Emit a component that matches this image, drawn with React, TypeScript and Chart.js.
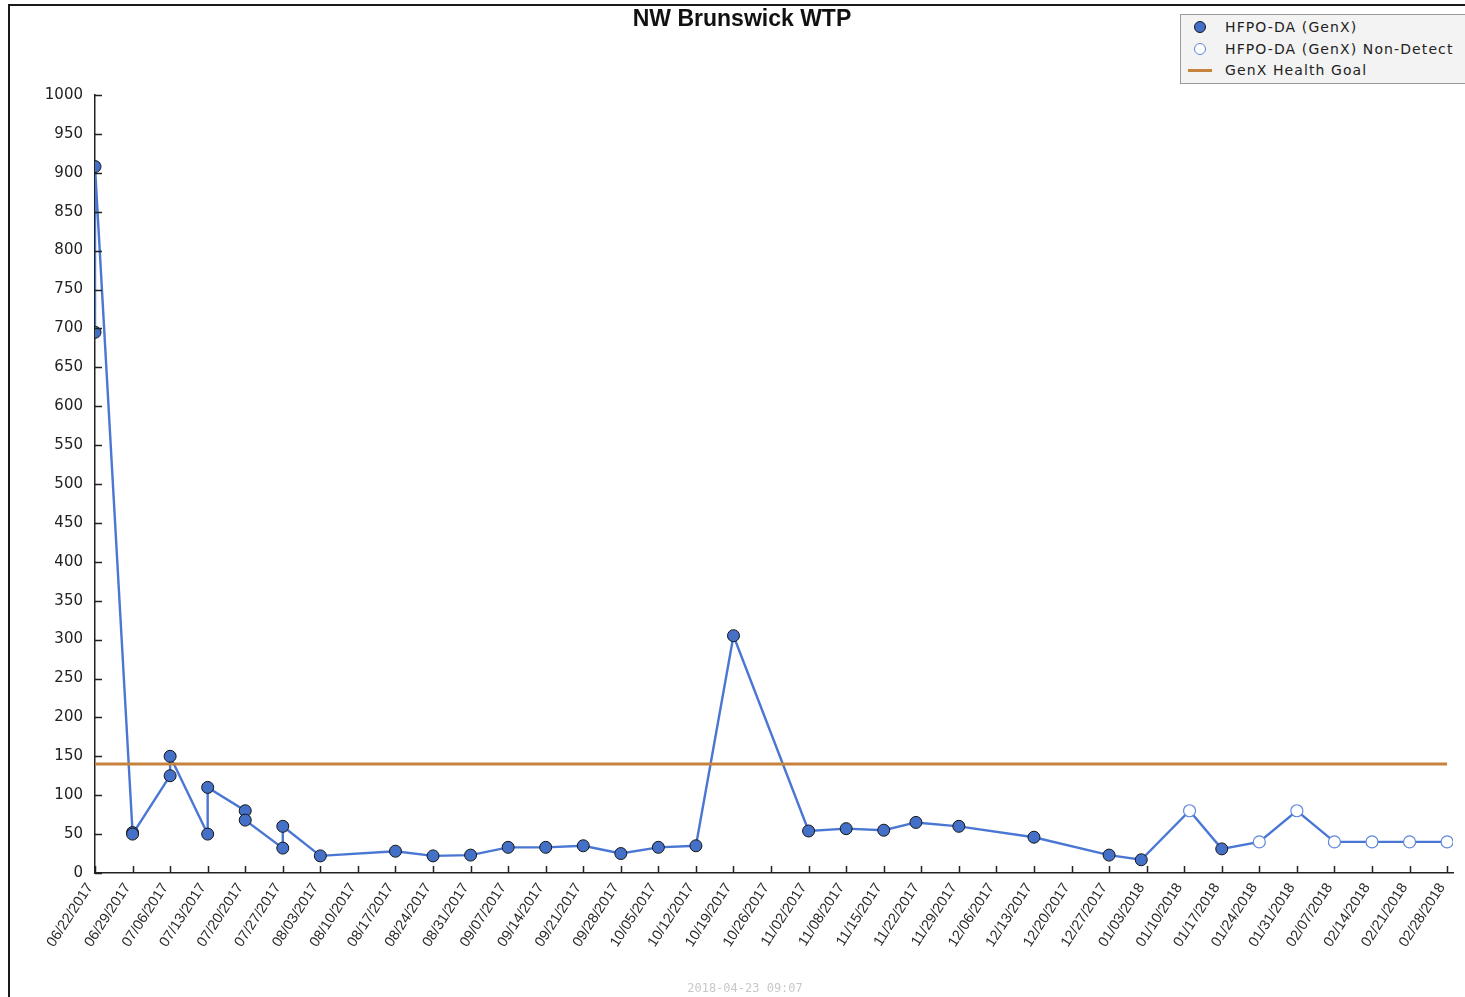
import React, { useEffect, useRef } from "react";
import { Chart, registerables } from "chart.js";

Chart.register(...registerables);

const chartTitle = "NW Brunswick WTP";
const startDate = "2017-06-22";
const tickLabels = [
  "06/22/2017", "06/29/2017", "07/06/2017", "07/13/2017", "07/20/2017", "07/27/2017",
  "08/03/2017", "08/10/2017", "08/17/2017", "08/24/2017", "08/31/2017", "09/07/2017",
  "09/14/2017", "09/21/2017", "09/28/2017", "10/05/2017", "10/12/2017", "10/19/2017",
  "10/26/2017", "11/02/2017", "11/08/2017", "11/15/2017", "11/22/2017", "11/29/2017",
  "12/06/2017", "12/13/2017", "12/20/2017", "12/27/2017", "01/03/2018", "01/10/2018",
  "01/17/2018", "01/24/2018", "01/31/2018", "02/07/2018", "02/14/2018", "02/21/2018",
  "02/28/2018",
];
const sampleDates = [
  "2017-06-22", "2017-06-22", "2017-06-29", "2017-06-29", "2017-07-06", "2017-07-06",
  "2017-07-13", "2017-07-13", "2017-07-20", "2017-07-20", "2017-07-27", "2017-07-27",
  "2017-08-03", "2017-08-17", "2017-08-24", "2017-08-31", "2017-09-07", "2017-09-14",
  "2017-09-21", "2017-09-28", "2017-10-05", "2017-10-12", "2017-10-19", "2017-11-02",
  "2017-11-09", "2017-11-16", "2017-11-22", "2017-11-30", "2017-12-14", "2017-12-28",
  "2018-01-03", "2018-01-12", "2018-01-18", "2018-01-25", "2018-02-01", "2018-02-08",
  "2018-02-15", "2018-02-22", "2018-03-01",
];
const sampleValues = [
  695, 908, 52, 50, 125, 150,
  50, 110, 80, 68, 32, 60,
  22, 28, 22, 23, 33, 33,
  35, 25, 33, 35, 305, 54,
  57, 55, 65, 60, 46, 23,
  17, 80, 31, 40, 80, 40,
  40, 40, 40,
];
const nonDetect = [
  false, false, false, false, false, false,
  false, false, false, false, false, false,
  false, false, false, false, false, false,
  false, false, false, false, false, false,
  false, false, false, false, false, false,
  false, true, false, true, true, true,
  true, true, true,
];
const healthGoal = 140;
const seriesLabels = ["HFPO-DA (GenX)", "HFPO-DA (GenX) Non-Detect", "GenX Health Goal"];
const footerText = "2018-04-23 09:07";

const LINE_BLUE = "#4a76d4";
const FILL_BLUE = "#4470c8";
const ND_BLUE = "#5f86dc";
const GOAL_ORANGE = "#c7823e";
const AXIS = "#222222";

const dayOf = (d: string) => Math.round((Date.parse(d) - Date.parse(startDate)) / 86400000);

const innerTicks = {
  id: "innerTicks",
  afterDraw(chart: any) {
    const { ctx, chartArea } = chart;
    const xs = chart.scales.x;
    const ys = chart.scales.y;
    ctx.save();
    ctx.strokeStyle = AXIS;
    ctx.lineWidth = 1.5;
    ctx.beginPath();
    ys.ticks.forEach((t: any) => {
      const y = Math.round(ys.getPixelForValue(t.value)) + 0.5;
      ctx.moveTo(chartArea.left, y);
      ctx.lineTo(chartArea.left + 7, y);
    });
    xs.ticks.forEach((t: any) => {
      const x = Math.round(xs.getPixelForValue(t.value)) + 0.5;
      ctx.moveTo(x, chartArea.bottom);
      ctx.lineTo(x, chartArea.bottom - 7);
    });
    ctx.stroke();
    ctx.restore();
  },
};

export default function App() {
  const canvasRef = useRef<HTMLCanvasElement | null>(null);

  useEffect(() => {
    if (!canvasRef.current) return;
    const all = sampleDates.map((d, i) => ({ x: dayOf(d), y: sampleValues[i] }));
    const detected = all.filter((_, i) => !nonDetect[i]);
    const nd = all.filter((_, i) => nonDetect[i]);
    const lastDay = (tickLabels.length - 1) * 7;

    const chart = new Chart(canvasRef.current, {
      type: "scatter",
      data: {
        datasets: [
          {
            label: seriesLabels[0],
            data: detected,
            showLine: false,
            pointStyle: "circle",
            pointRadius: 6,
            pointBackgroundColor: FILL_BLUE,
            pointBorderColor: "#151515",
            pointBorderWidth: 1,
          },
          {
            label: seriesLabels[1],
            data: nd,
            showLine: false,
            pointStyle: "circle",
            pointRadius: 6,
            pointBackgroundColor: "#ffffff",
            pointBorderColor: ND_BLUE,
            pointBorderWidth: 1.2,
          },
          {
            label: seriesLabels[2],
            data: [
              { x: 0, y: healthGoal },
              { x: lastDay, y: healthGoal },
            ],
            showLine: true,
            borderColor: GOAL_ORANGE,
            borderWidth: 3,
            pointRadius: 0,
          },
          {
            label: "series line",
            data: all,
            showLine: true,
            borderColor: LINE_BLUE,
            borderWidth: 2.4,
            pointRadius: 0,
            tension: 0,
          },
        ],
      },
      options: {
        animation: false,
        responsive: false,
        events: [],
        layout: { padding: { left: 31, right: 12, top: 0, bottom: 0 } },
        plugins: {
          legend: { display: false },
          tooltip: { enabled: false },
          title: {
            display: true,
            text: chartTitle,
            color: "#111",
            font: { family: "'Liberation Sans', Arial, sans-serif", size: 23, weight: "bold", lineHeight: 1.2 },
            padding: { top: 5.4, bottom: 62 },
          },
        },
        scales: {
          x: {
            type: "linear",
            min: 0,
            max: 253.1,
            grid: { display: true, drawOnChartArea: false, drawTicks: false },
            border: { display: true, color: AXIS, width: 1.5 },
            afterBuildTicks: (scale: any) => {
              scale.ticks = tickLabels.map((_, i) => ({ value: i * 7 }));
            },
            afterFit: (scale: any) => {
              scale.height = 124;
              scale.paddingLeft = 0;
              scale.paddingRight = 0;
            },
            ticks: {
              autoSkip: false,
              minRotation: 57,
              maxRotation: 57,
              padding: 7,
              labelOffset: -5,
              color: "#2a2a2a",
              font: { family: "'Liberation Sans', Arial, sans-serif", size: 14.5 },
              callback: (_v: any, i: number) => tickLabels[i],
            },
          },
          y: {
            type: "linear",
            min: 0,
            max: 1000,
            grid: { display: true, drawOnChartArea: false, drawTicks: false },
            border: { display: true, color: AXIS, width: 1.5 },
            afterFit: (scale: any) => {
              scale.width = 64;
              scale.paddingTop = 0;
              scale.paddingBottom = 0;
            },
            ticks: {
              stepSize: 50,
              padding: 12,
              color: "#222",
              font: { family: "'DejaVu Sans', sans-serif", size: 15 },
              callback: (v: any) => String(v),
            },
          },
        },
      },
      plugins: [innerTicks],
    } as any);
    return () => chart.destroy();
  }, []);

  const legendRow = (top: number, marker: React.ReactNode, text: string) => (
    <div style={{ position: "absolute", left: 0, top, height: 20, width: "100%" }}>
      <div style={{ position: "absolute", left: 7, top: 0, width: 24, height: 20, display: "flex", alignItems: "center", justifyContent: "center" }}>
        {marker}
      </div>
      <div
        style={{
          position: "absolute",
          left: 44,
          top: 0,
          lineHeight: "20px",
          fontFamily: "'DejaVu Sans', sans-serif",
          fontSize: 14,
          letterSpacing: "1.1px",
          color: "#222",
          whiteSpace: "nowrap",
        }}
      >
        {text}
      </div>
    </div>
  );

  return (
    <div style={{ position: "absolute", left: 0, top: 0, width: 1465, height: 997, overflow: "hidden", background: "#fff" }}>
      <div
        style={{
          position: "absolute",
          left: 8,
          top: 4,
          width: 1465,
          height: 1000,
          borderTop: "2px solid #1a1a1a",
          borderLeft: "2px solid #1a1a1a",
        }}
      />
      <canvas ref={canvasRef} width={1465} height={997} style={{ position: "absolute", left: 0, top: 0, width: 1465, height: 997 }} />
      <div
        style={{
          position: "absolute",
          left: 1180,
          top: 14,
          width: 300,
          height: 70,
          background: "#f3f3f3",
          border: "1px solid #9a9a9a",
          boxSizing: "border-box",
        }}
      >
        {legendRow(
          2,
          <span style={{ display: "block", width: 10, height: 10, borderRadius: "50%", background: FILL_BLUE, border: "1px solid #151515" }} />,
          seriesLabels[0]
        )}
        {legendRow(
          24,
          <span style={{ display: "block", width: 10, height: 10, borderRadius: "50%", background: "#fff", border: `1px solid ${ND_BLUE}` }} />,
          seriesLabels[1]
        )}
        {legendRow(
          45,
          <span style={{ display: "block", width: 24, height: 3, background: GOAL_ORANGE }} />,
          seriesLabels[2]
        )}
      </div>
      <div
        style={{
          position: "absolute",
          left: 645,
          width: 200,
          top: 981,
          textAlign: "center",
          fontFamily: "'DejaVu Sans Mono', monospace",
          fontSize: 12,
          color: "#c8c8c8",
          whiteSpace: "nowrap",
        }}
      >
        {footerText}
      </div>
    </div>
  );
}
